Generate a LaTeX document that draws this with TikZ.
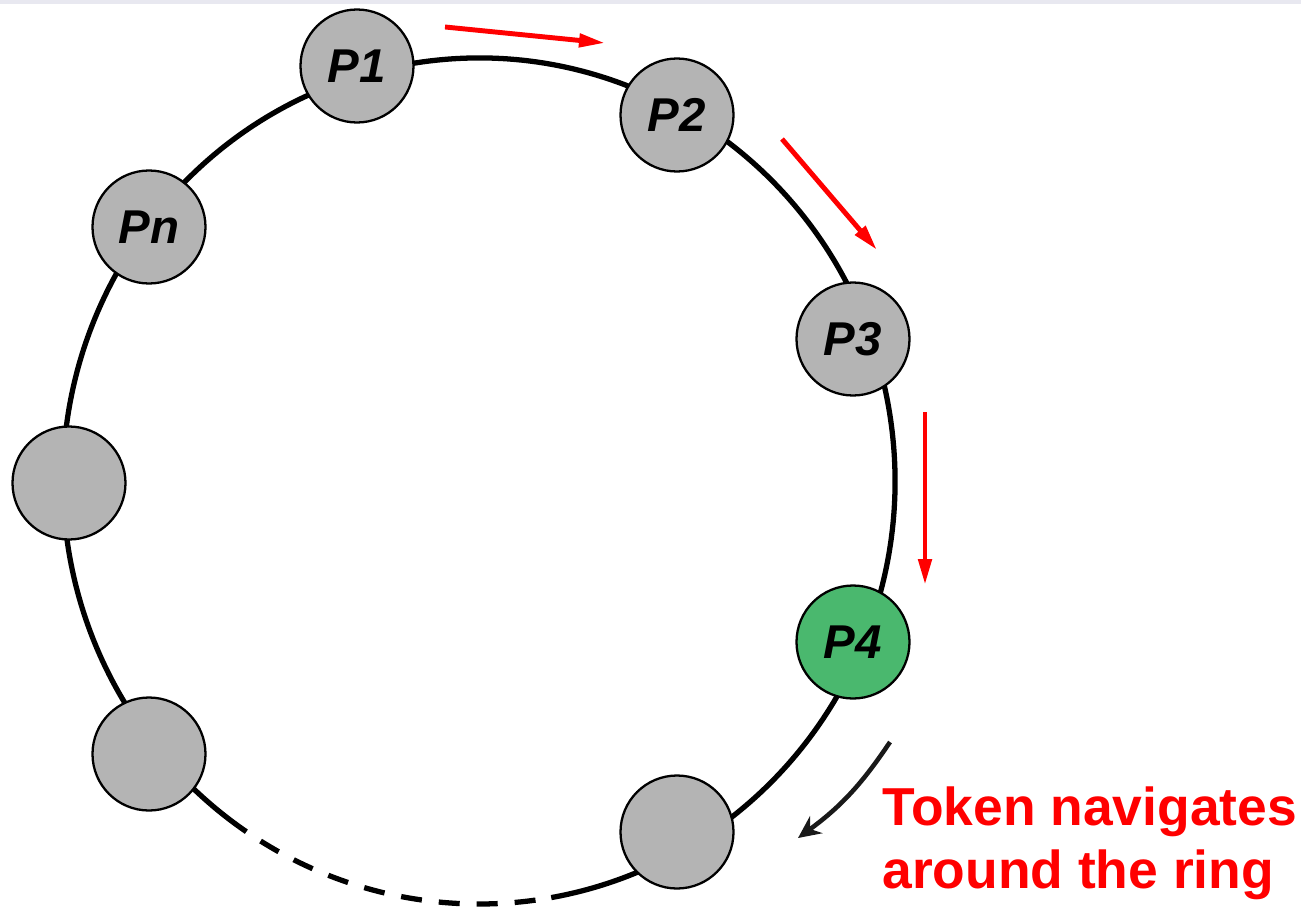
\documentclass[tikz,border=0pt]{standalone}
\usepackage{fontspec}
\setmainfont{Liberation Sans}
\usetikzlibrary{positioning, arrows.meta}
\definecolor{procgray}{RGB}{180,180,180}
\definecolor{procgreen}{RGB}{74,184,110}
\definecolor{tokenred}{RGB}{255,0,0}
\definecolor{band}{RGB}{232,232,240}

\begin{document}
\begin{tikzpicture}[
    proc/.style={circle, draw, line width=1.3pt, fill=procgray, minimum size=2.26cm,
      inner sep=0pt, font=\fontsize{27}{28}\selectfont\bfseries\itshape},
    holder/.style={proc, fill=procgreen},
    ring/.style={line width=3pt},
    pass/.style={tokenred, line width=2.8pt, -{Triangle[length=0.52cm, width=0.26cm]}}
  ]
  \useasboundingbox (-9.58,-8.62) rectangle (16.44,9.62);
  \fill[band] (-9.58,9.54) rectangle (16.44,9.62);

  % ring, gap at the bottom dashed
  \draw[ring] (280:8.32 and 8.46) arc[start angle=280, end angle=596, x radius=8.32, y radius=8.46];
  \draw[ring, dash pattern=on 0.42cm off 0.34cm, dash phase=0.42cm]
    (236:8.32 and 8.46) arc[start angle=236, end angle=280, x radius=8.32, y radius=8.46];

  \node[proc] (p_1) at (-2.44,8.30) {P1};
  \node[proc] (p_2) at (3.96,7.32) {P2};
  \node[proc] (p_3) at (7.48,2.84) {P3};
  \node[holder] (p_4) at (7.48,-3.22) {P4};
  \node[proc] (p_5) at (3.96,-7.02) {};
  \node[proc] (p_7) at (-6.60,-5.46) {};
  \node[proc] (p_8) at (-8.20,-0.04) {};
  \node[proc] (p_n) at (-6.60,5.08) {Pn};

  % token moves
  \coordinate (t_1) at (-0.68,9.08);
  \coordinate (t_2) at (2.52,8.76);
  \coordinate (t_3) at (6.06,6.84);
  \coordinate (t_4) at (7.96,4.62);
  \coordinate (t_5) at (8.92,1.38);
  \coordinate (t_6) at (8.92,-2.08);
  \draw[pass] (t_1) -- (t_2);
  \draw[pass] (t_3) -- (t_4);
  \draw[pass] (t_5) -- (t_6);

  \node[font=\fontsize{30.4}{35.7}\selectfont\bfseries, text=tokenred, align=left,
    anchor=base west, inner sep=0pt] (note) at (8.06,-8.14) {Token navigates\\around the ring};
  \coordinate (c_1) at (8.22,-5.22);
  \coordinate (c_2) at (6.38,-7.14);
  \draw[black!90, line width=2.6pt, -{Stealth[length=0.45cm, width=0.42cm]}] (c_1) to[bend left=10] (c_2);
\end{tikzpicture}
\end{document}
